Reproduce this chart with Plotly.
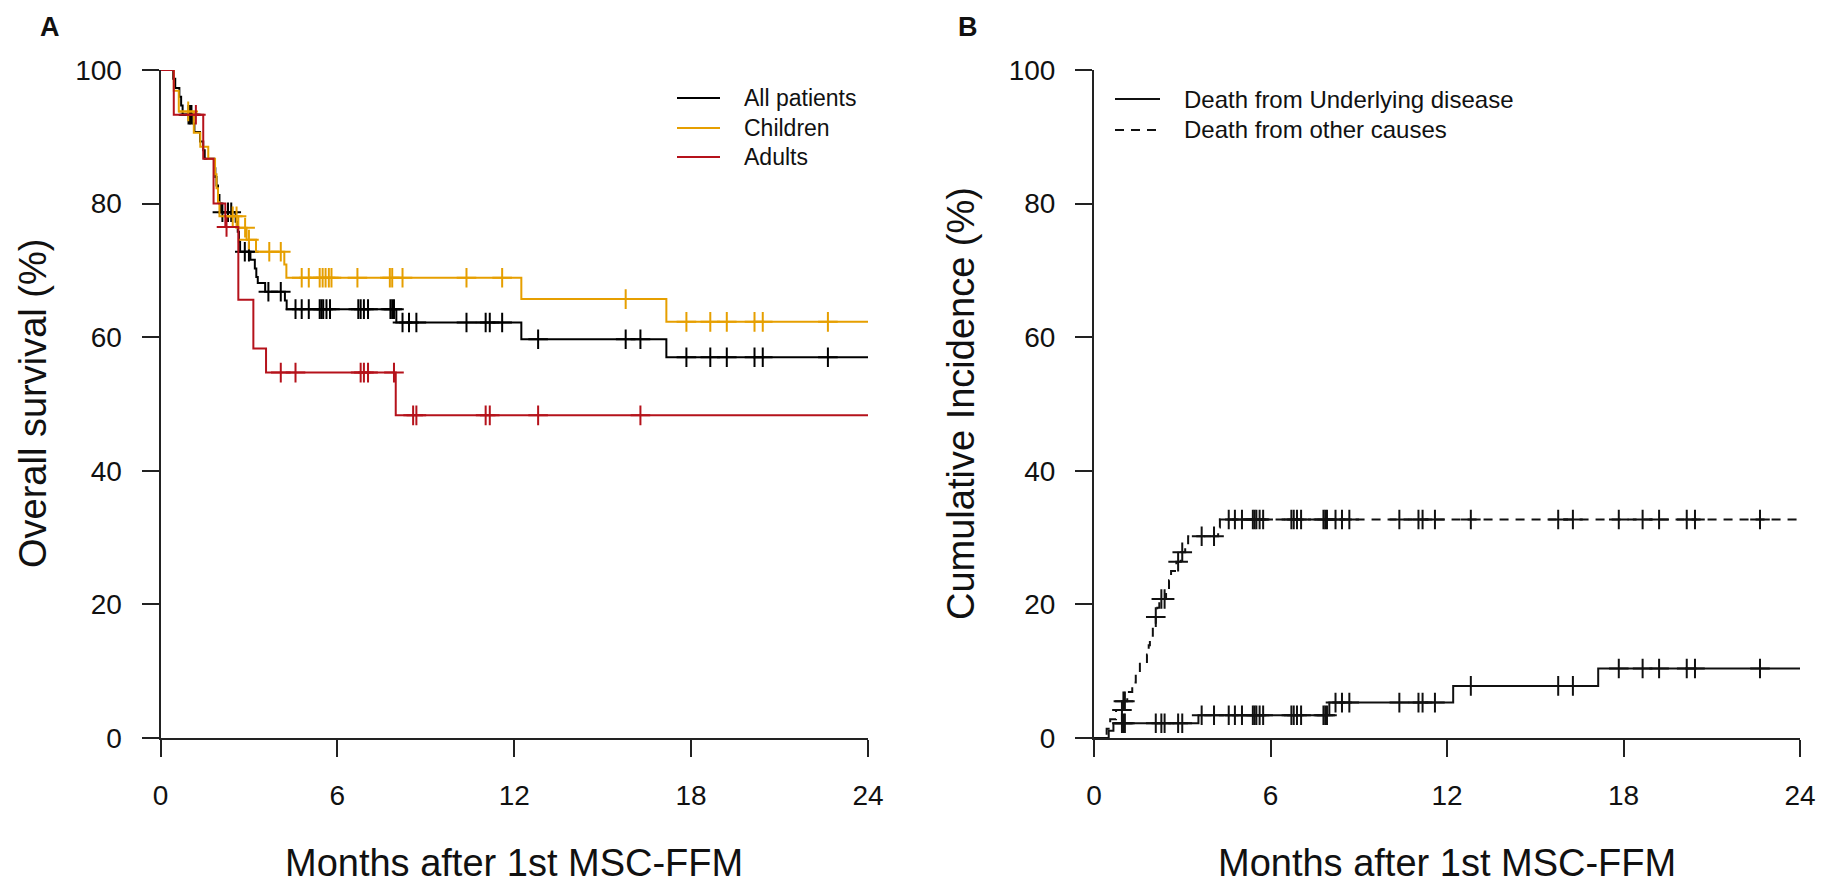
import plotly.graph_objects as go

# ---------------- DATA ----------------
x_ticks = [0, 6, 12, 18, 24]
y_ticks = [0, 20, 40, 60, 80, 100]

# Panel A: Kaplan-Meier overall survival (%) - step times (months) and survival after each step
all_t = [0.43, 0.5, 0.64, 0.7, 0.75, 1.11, 1.15, 1.34, 1.45, 1.5, 1.82, 1.86, 1.9, 1.95, 2.0, 2.05,
         2.55, 2.62, 2.66, 2.7, 3.05, 3.2, 3.25, 3.3, 3.55, 4.22, 4.28, 8.0, 12.24, 17.16]
all_s = [98.7, 97.3, 96.0, 94.7, 93.3, 92.0, 90.7, 89.3, 88.0, 86.7, 85.3, 84.0, 82.7, 81.3, 80.0, 78.7,
         77.3, 75.8, 74.3, 72.8, 71.6, 70.3, 69.0, 68.1, 66.8, 65.5, 64.2, 62.2, 59.7, 57.0]
all_cens = [0.95, 1.0, 1.05, 2.1, 2.29, 2.4, 2.86, 3.0, 3.66, 4.08, 4.58, 4.79, 5.03, 5.40, 5.46, 5.52,
            5.63, 5.75, 6.71, 6.79, 6.90, 7.04, 7.80, 7.86, 7.92, 8.21, 8.43, 8.68, 10.38, 11.03,
            11.17, 11.59, 12.81, 15.78, 16.28, 17.84, 18.65, 19.21, 20.15, 20.43, 22.64]

child_t = [0.45, 0.62, 1.13, 1.35, 1.62, 1.85, 1.9, 1.95, 2.0, 2.64, 2.92, 3.24, 4.2, 4.27, 12.24, 17.16]
child_s = [96.9, 93.8, 90.6, 88.5, 86.7, 84.4, 82.3, 80.2, 78.1, 76.4, 74.6, 72.8, 70.9, 68.9, 65.7, 62.3]
child_cens = [0.94, 2.45, 2.58, 2.87, 3.0, 3.69, 4.08, 4.79, 5.03, 5.40, 5.50, 5.60, 5.71, 5.80, 6.68,
              7.78, 7.86, 8.21, 10.38, 11.59, 15.78, 17.84, 18.65, 19.21, 20.15, 20.43, 22.64]

adult_t = [0.45, 1.45, 1.8, 2.2, 2.64, 3.15, 3.58, 7.98]
adult_s = [93.3, 86.7, 80.0, 76.5, 65.6, 58.3, 54.7, 48.3]
adult_cens = [1.2, 2.24, 4.08, 4.58, 6.79, 6.90, 7.04, 7.92, 8.57, 8.68, 11.03, 11.17, 12.81, 16.28]

# Panel B: cumulative incidence (%) of competing causes of death
disease_t = [0.5, 0.66, 3.55, 8.0, 12.21, 17.14]
disease_v = [1.1, 2.2, 3.4, 5.3, 7.8, 10.4]
other_t = [0.43, 0.55, 0.75, 1.0, 1.13, 1.3, 1.42, 1.56, 1.8, 1.86, 1.9, 2.0, 2.1, 2.15, 2.22, 2.45,
           2.55, 2.62, 2.8, 2.95, 3.1, 3.2, 4.22, 4.28]
other_v = [1.4, 2.8, 4.2, 5.5, 6.9, 8.3, 9.7, 11.1, 12.5, 13.9, 15.3, 16.7, 18.1, 19.5, 20.8, 22.2,
           23.6, 25.0, 26.4, 27.8, 29.0, 30.2, 31.5, 32.7]
ci_cens = all_cens

# ---------------- STYLE ----------------
W, H = 1823, 885
FONT = "Liberation Sans, Arial, sans-serif"
C_ALL, C_CHILD, C_ADULT = "#000000", "#E69F00", "#B5121B"
TXT = "#111111"


def steps(times, vals, start, end=24):
    xs, ys = [0.0], [start]
    for t, v in zip(times, vals):
        xs.append(t)
        ys.append(v)
    xs.append(end)
    ys.append(vals[-1])
    return xs, ys


def level(t, times, vals, start):
    v = start
    for tt, vv in zip(times, vals):
        if tt <= t:
            v = vv
    return v


fig = go.Figure()


def add_curve(times, vals, start, cens, color, xa, ya, dash="solid"):
    xs, ys = steps(times, vals, start)
    fig.add_trace(go.Scatter(x=xs, y=ys, mode="lines", line=dict(color=color, width=2, shape="hv", dash=dash),
                             xaxis=xa, yaxis=ya, showlegend=False, cliponaxis=False, hoverinfo="skip"))
    cy = [level(c, times, vals, start) for c in cens]
    fig.add_trace(go.Scatter(x=cens, y=cy, mode="markers",
                             marker=dict(symbol="cross-thin", size=14, line=dict(width=2, color=color)),
                             xaxis=xa, yaxis=ya, showlegend=False, cliponaxis=False, hoverinfo="skip"))


add_curve(all_t, all_s, 100, all_cens, C_ALL, "x", "y")
add_curve(child_t, child_s, 100, child_cens, C_CHILD, "x", "y")
add_curve(adult_t, adult_s, 100, adult_cens, C_ADULT, "x", "y")

add_curve(disease_t, disease_v, 0, ci_cens, "#111111", "x2", "y2")
add_curve(other_t, other_v, 0, ci_cens, "#111111", "x2", "y2", dash="9px,7px")


def px(X):
    return X / W


def py(Y):
    return 1 - Y / H


xdomA = [px(160.5), px(868)]
xdomB = [px(1094), px(1800)]
ydom = [py(738), py(70)]

axis_common = dict(showline=True, linecolor="#222222", linewidth=2, ticks="outside", ticklen=17,
                   tickwidth=2, tickcolor="#222222", showgrid=False, zeroline=False, automargin=False,
                   tickfont=dict(family=FONT, size=28, color=TXT), fixedrange=True)

fig.update_layout(
    width=W, height=H, margin=dict(l=0, r=0, t=0, b=0, pad=0, autoexpand=False),
    paper_bgcolor="white", plot_bgcolor="white", showlegend=False,
    xaxis=dict(domain=xdomA, range=[0, 24], tickvals=x_ticks, anchor="y", ticklabelstandoff=14, **axis_common),
    yaxis=dict(domain=ydom, range=[0, 100], tickvals=y_ticks, anchor="x", ticklabelstandoff=14, **axis_common),
    xaxis2=dict(domain=xdomB, range=[0, 24], tickvals=x_ticks, anchor="y2", ticklabelstandoff=14, **axis_common),
    yaxis2=dict(domain=ydom, range=[0, 100], tickvals=y_ticks, anchor="x2", ticklabelstandoff=14, **axis_common),
)

ann = []
# panel letters
ann.append(dict(x=px(50), y=py(27), text="<b>A</b>", font=dict(family=FONT, size=27, color=TXT)))
ann.append(dict(x=px(968), y=py(27), text="<b>B</b>", font=dict(family=FONT, size=27, color=TXT)))
# axis titles
ann.append(dict(x=px(514), y=py(863), text="Months after 1st MSC-FFM", font=dict(family=FONT, size=38, color=TXT)))
ann.append(dict(x=px(1447), y=py(863), text="Months after 1st MSC-FFM", font=dict(family=FONT, size=38, color=TXT)))
ann.append(dict(x=px(33), y=py(404), text="Overall survival (%)", textangle=-90, font=dict(family=FONT, size=38, color=TXT)))
ann.append(dict(x=px(961), y=py(404), text="Cumulative Incidence (%)", textangle=-90, font=dict(family=FONT, size=38, color=TXT)))

shapes = []
# legend A
legA = [("All patients", C_ALL, 98), ("Children", C_CHILD, 128), ("Adults", C_ADULT, 157)]
for name, col, Y in legA:
    shapes.append(dict(type="line", xref="paper", yref="paper", x0=px(677), x1=px(720), y0=py(Y), y1=py(Y),
                       line=dict(color=col, width=2)))
    ann.append(dict(x=px(742), y=py(Y), text=name, xanchor="left", font=dict(family=FONT, size=23, color=TXT)))
# legend B
legB = [("Death from Underlying disease", "solid", 99), ("Death from other causes", "9px,7px", 130)]
for name, dsh, Y in legB:
    shapes.append(dict(type="line", xref="paper", yref="paper", x0=px(1115), x1=px(1160), y0=py(Y), y1=py(Y),
                       line=dict(color="#111111", width=2, dash=dsh)))
    ann.append(dict(x=px(1182), y=py(Y), text=name, xanchor="left", font=dict(family=FONT, size=24, color=TXT)))

for a in ann:
    a.setdefault("xref", "paper")
    a.setdefault("yref", "paper")
    a.setdefault("showarrow", False)
    a.setdefault("xanchor", "center")
    a.setdefault("yanchor", "middle")

fig.update_layout(annotations=ann, shapes=shapes)
fig.write_html("out.html")
